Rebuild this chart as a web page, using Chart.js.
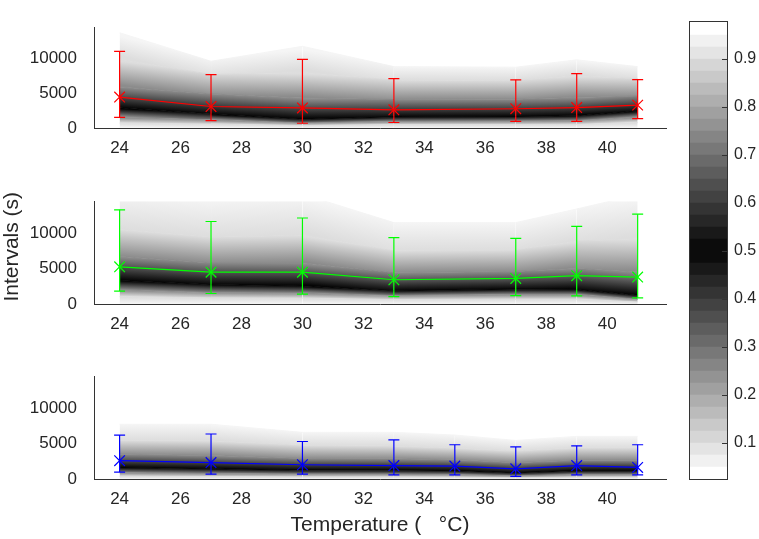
<!DOCTYPE html>
<html>
<head>
<meta charset="utf-8">
<title>Intervals vs temperature</title>
<script src="https://cdn.jsdelivr.net/npm/chart.js@4.4.1/dist/chart.umd.min.js"></script>
<style>
  html, body { margin: 0; padding: 0; background: #fff; }
  #wrap { position: relative; width: 759px; height: 539px; overflow: hidden; }
  canvas { position: absolute; }
</style>
</head>
<body>
<div id="wrap">
  <canvas id="panelRed" width="680" height="170" style="left:0;top:0"></canvas>
  <canvas id="panelGreen" width="680" height="172" style="left:0;top:174px"></canvas>
  <canvas id="panelBlue" width="680" height="190" style="left:0;top:349px"></canvas>
  <canvas id="colorbar" width="79" height="539" style="left:680px;top:0"></canvas>
</div>
<script>
const FONT = "'Liberation Sans', Arial, Helvetica, sans-serif";
const TEXT = "#262626";
const AXIS = "#333333";

// temperatures (°C)
const tempsRG = [24, 27, 30, 33, 37, 39, 41];
const tempsB = [24, 27, 30, 33, 35, 37, 39, 41];

// tick labels
const xTicks = [24, 26, 28, 30, 32, 34, 36, 38, 40];
const yTicks = [0, 5000, 10000];
const cbTicks = [0.1, 0.2, 0.3, 0.4, 0.5, 0.6, 0.7, 0.8, 0.9];

// top panel (red): mean and error bars
const redMean = [4450, 3090, 2890, 2620, 2770, 2940, 3290];
const redLow = [1540, 1070, 680, 790, 950, 950, 1340];
const redHigh = [11010, 7670, 9880, 7090, 6930, 7830, 6970];
// top panel quantile contours
const redQ10 = [700, 540, 350, 470, 470, 510, 780];
const redQ25 = [1500, 1170, 700, 930, 970, 1050, 1560];
const redQ50 = [2900, 2000, 1250, 1600, 1650, 1750, 2450];
const redQ75 = [5900, 4900, 4300, 4100, 4150, 4400, 4600];
const redQ90 = [9900, 7700, 8000, 6900, 6850, 7500, 7100];
const redTop = [13700, 9600, 11750, 8830, 8750, 9800, 8830];

// middle panel (green)
const greenMean = [5250, 4490, 4490, 3420, 3610, 3990, 3800];
const greenLow = [1830, 1480, 1400, 1030, 1180, 1140, 870];
const greenHigh = [13280, 11640, 12130, 9360, 9250, 10960, 12670];
const greenQ10 = [1030, 840, 800, 610, 650, 650, 270];
const greenQ25 = [1980, 1600, 1520, 1180, 1330, 1330, 650];
const greenQ50 = [3310, 2740, 2550, 1860, 2090, 2050, 1220];
const greenQ75 = [6700, 5800, 5800, 4400, 4600, 5000, 4500];
const greenQ90 = [10500, 9400, 9700, 7500, 7600, 8900, 9200];
const greenTop = [16000, 14800, 15500, 11480, 11480, 13400, 15400];

// bottom panel (blue)
const blueMean = [2580, 2320, 2010, 1900, 1830, 1440, 1900, 1630];
const blueLow = [980, 680, 680, 570, 570, 380, 570, 570];
const blueHigh = [6200, 6350, 5290, 5510, 4830, 4520, 4680, 4830];
const blueQ10 = [380, 300, 270, 270, 230, 150, 230, 230];
const blueQ25 = [870, 760, 680, 650, 610, 420, 610, 610];
const blueQ50 = [1630, 1440, 1250, 1250, 1180, 870, 1180, 1180];
const blueQ75 = [3500, 3300, 2900, 2850, 2700, 2300, 2650, 2650];
const blueQ90 = [5400, 5400, 4750, 4650, 4350, 3950, 4400, 4400];
const blueTop = [7720, 7720, 6580, 6580, 6200, 5440, 6010, 6010];

// quantile level of each contour above (the first band starts at 0)
const bandLevels = [0.1, 0.25, 0.5, 0.75, 0.9, 0.975];

// colorbar contour levels
const cbLevels = [0.025, 0.05, 0.075, 0.1, 0.125, 0.15, 0.175, 0.2, 0.225, 0.25,
  0.275, 0.3, 0.325, 0.35, 0.375, 0.4, 0.425, 0.45, 0.475, 0.5,
  0.525, 0.55, 0.575, 0.6, 0.625, 0.65, 0.675, 0.7, 0.725, 0.75,
  0.775, 0.8, 0.825, 0.85, 0.875, 0.9, 0.925, 0.95, 0.975];

// black at the median, white at both tails
function gray(q, cap) {
  const v = Math.max(0, Math.min(cap, Math.round(5 + 540 * Math.abs(q - 0.5))));
  return `rgb(${v},${v},${v})`;
}

// gradient for one segment of a band, running across the band's mid slope
function bandColor(temps, lower, upper, qLo, qHi) {
  return (ctx) => {
    const chart = ctx.chart;
    const xs = chart.scales.x;
    const ys = chart.scales.y;
    const i0 = ctx.p0DataIndex;
    const i1 = ctx.p1DataIndex;
    const xa = xs.getPixelForValue(temps[i0]);
    const xb = xs.getPixelForValue(temps[i1]);
    const la = ys.getPixelForValue(lower ? lower[i0] : 0);
    const lb = ys.getPixelForValue(lower ? lower[i1] : 0);
    const ua = ys.getPixelForValue(upper[i0]);
    const ub = ys.getPixelForValue(upper[i1]);
    const s = ((lb - la) + (ub - ua)) / 2 / (xb - xa);
    const xm = (xa + xb) / 2;
    const lm = (la + lb) / 2;
    const h = (ua + ub) / 2 - lm;
    const k = 1 + s * s;
    const g = chart.ctx.createLinearGradient(xm, lm, xm - (s * h) / k, lm + h / k);
    g.addColorStop(0, gray(qLo, 245));
    g.addColorStop(1, gray(qHi, 245));
    return g;
  };
}

function makePanel(id, opts) {
  const { temps, mean, low, high, edges, color } = opts;

  const bands = edges.map((edge, k) => {
    const shade = bandColor(
      temps,
      k === 0 ? null : edges[k - 1],
      edge,
      k === 0 ? 0 : bandLevels[k - 1],
      bandLevels[k]
    );
    return {
      type: "line",
      data: temps.map((t, i) => ({ x: t, y: edge[i] })),
      fill: k === 0 ? "origin" : "-1",
      borderWidth: 1,
      borderColor: "rgba(0,0,0,0)",
      pointRadius: 0,
      order: 10,
      segment: { backgroundColor: shade, borderColor: shade },
    };
  });

  const errorBars = {
    type: "line",
    data: temps.flatMap((t, i) => [
      { x: t, y: low[i] },
      { x: t, y: high[i] },
      { x: t, y: null },
    ]),
    borderColor: color,
    borderWidth: 1.2,
    spanGaps: false,
    fill: false,
    pointStyle: "line",
    pointRadius: 5.5,
    pointBorderWidth: 1.2,
    pointBorderColor: color,
    order: 1,
  };

  const meanLine = {
    type: "line",
    data: temps.map((t, i) => ({ x: t, y: mean[i] })),
    borderColor: color,
    borderWidth: 1.2,
    fill: false,
    pointStyle: "crossRot",
    pointRadius: 7.5,
    pointBorderWidth: 1.2,
    pointBorderColor: color,
    pointBackgroundColor: color,
    order: 0,
  };

  return new Chart(document.getElementById(id), {
    type: "line",
    data: { datasets: [...bands, errorBars, meanLine] },
    options: {
      responsive: false,
      maintainAspectRatio: false,
      animation: false,
      events: [],
      layout: { padding: { top: opts.padTop, right: 14, left: 0, bottom: 0 } },
      plugins: { legend: { display: false }, tooltip: { enabled: false } },
      scales: {
        x: {
          type: "linear",
          min: 23.16,
          max: 41.93,
          afterBuildTicks: (axis) => {
            axis.ticks = xTicks.map((v) => ({ value: v }));
          },
          afterFit: (axis) => {
            axis.height = opts.xHeight;
          },
          grid: { display: false, drawTicks: false },
          border: { display: true, color: AXIS, width: 1 },
          ticks: {
            font: { family: FONT, size: 17 },
            color: TEXT,
            padding: 10,
            maxRotation: 0,
            autoSkip: false,
            callback: (v) => String(v),
          },
          title: {
            display: !!opts.xTitle,
            text: opts.xTitle || "",
            font: { family: FONT, size: 21 },
            color: TEXT,
            padding: { top: 0, bottom: 1 },
          },
        },
        y: {
          min: 0,
          max: 14500,
          afterBuildTicks: (axis) => {
            axis.ticks = yTicks.map((v) => ({ value: v }));
          },
          afterFit: (axis) => {
            axis.width = 94;
          },
          grid: { display: false, drawTicks: false },
          border: { display: true, color: AXIS, width: 1 },
          ticks: {
            font: { family: FONT, size: 17 },
            color: TEXT,
            padding: 17,
            callback: (v) => String(v),
          },
          title: {
            display: !!opts.yTitle,
            text: opts.yTitle || "",
            font: { family: FONT, size: 21 },
            color: TEXT,
            padding: { top: 0, bottom: 0 },
          },
        },
      },
    },
  });
}

makePanel("panelRed", {
  temps: tempsRG,
  mean: redMean,
  low: redLow,
  high: redHigh,
  edges: [redQ10, redQ25, redQ50, redQ75, redQ90, redTop],
  color: "#ff0000",
  padTop: 3,
  xHeight: 42,
});

makePanel("panelGreen", {
  temps: tempsRG,
  mean: greenMean,
  low: greenLow,
  high: greenHigh,
  edges: [greenQ10, greenQ25, greenQ50, greenQ75, greenQ90, greenTop],
  color: "#00ff00",
  padTop: 3,
  xHeight: 42,
  yTitle: "  Intervals (s)",
});

makePanel("panelBlue", {
  temps: tempsB,
  mean: blueMean,
  low: blueLow,
  high: blueHigh,
  edges: [blueQ10, blueQ25, blueQ50, blueQ75, blueQ90, blueTop],
  color: "#0000ff",
  padTop: 4,
  xHeight: 60,
  xTitle: "Temperature (   °C)",
});

// colorbar
const hiddenAxis = {
  ticks: { display: false },
  grid: { display: false, drawTicks: false },
  border: { display: true, color: AXIS, width: 1, z: 1 },
};

new Chart(document.getElementById("colorbar"), {
  type: "bar",
  data: {
    labels: [""],
    datasets: cbLevels.slice(0, -1).map((lo, i) => ({
      data: [[lo, cbLevels[i + 1]]],
      backgroundColor: gray((lo + cbLevels[i + 1]) / 2, 255),
      borderWidth: 0,
      grouped: false,
      barPercentage: 1,
      categoryPercentage: 1,
    })),
  },
  options: {
    responsive: false,
    maintainAspectRatio: false,
    animation: false,
    events: [],
    layout: { padding: { left: 9, top: 3, right: 0, bottom: 60 } },
    plugins: { legend: { display: false }, tooltip: { enabled: false } },
    scales: {
      x: { ...hiddenAxis, type: "category", position: "bottom", afterFit: (a) => { a.height = 0; } },
      xTop: { ...hiddenAxis, type: "category", position: "top", afterFit: (a) => { a.height = 0; } },
      yLeft: {
        ...hiddenAxis,
        type: "linear",
        position: "left",
        min: 0.025,
        max: 0.978,
        afterFit: (a) => { a.width = 0; },
      },
      y: {
        type: "linear",
        position: "right",
        min: 0.025,
        max: 0.978,
        afterBuildTicks: (axis) => {
          axis.ticks = cbTicks.map((v) => ({ value: v }));
        },
        afterFit: (a) => { a.width = 32; },
        grid: { display: true, drawOnChartArea: false, drawTicks: true, tickLength: -5, color: AXIS, z: 1 },
        border: { display: true, color: AXIS, width: 1, z: 1 },
        ticks: {
          font: { family: FONT, size: 16 },
          color: TEXT,
          padding: 12,
          callback: (v) => v.toFixed(1),
        },
      },
    },
  },
});
</script>
</body>
</html>
